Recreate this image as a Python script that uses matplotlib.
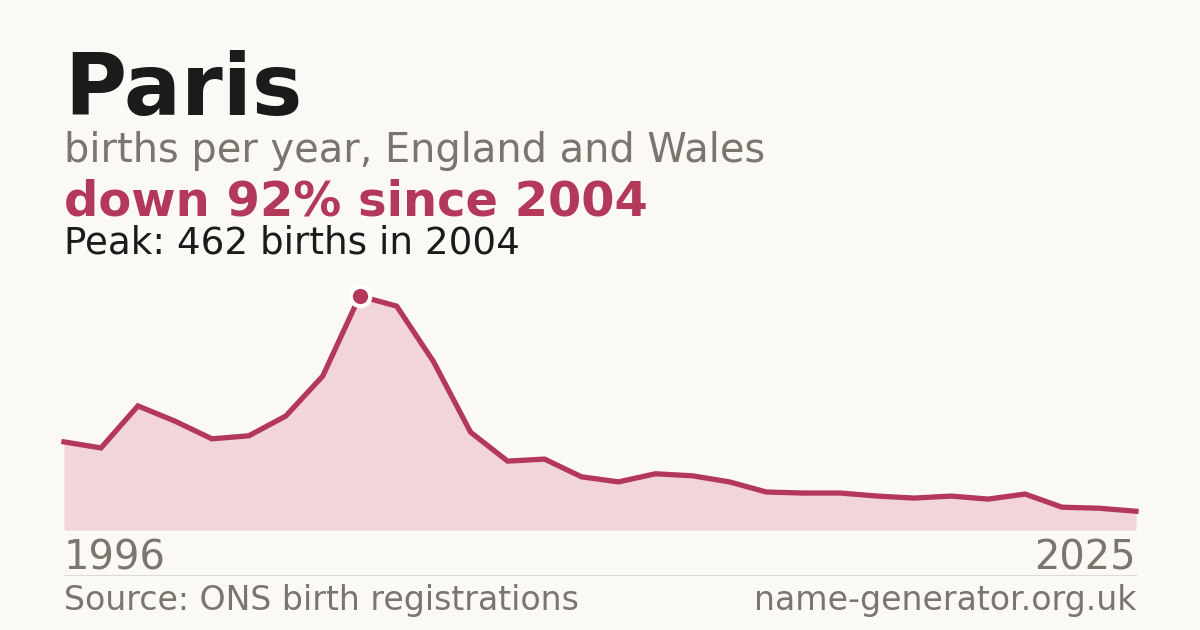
import matplotlib
matplotlib.use('Agg')
import matplotlib.pyplot as plt

# data
years = list(range(1996, 2026))
births = [174, 162, 245, 215, 180, 186, 225, 304, 462, 442,
          332, 193, 136, 140, 105, 95, 111, 107, 95, 75,
          73, 73, 67, 63, 67, 61, 71, 45, 43, 37]

name = 'Paris'
subtitle = 'births per year, England and Wales'
headline = 'down 92% since 2004'
peak_note = 'Peak: 462 births in 2004'
source = 'Source: ONS birth registrations'
site = 'name-generator.org.uk'

BG = '#faf9f5'
RED = '#b3385a'
GREY = '#7a756d'
INK = '#1b1b1b'

plt.rcParams['font.family'] = ['DejaVu Sans']

W, H = 1200, 630
fig = plt.figure(figsize=(12, 6.3), dpi=100, facecolor=BG)

def px(x, y):
    return x / W, 1 - y / H

# chart area
ax = fig.add_axes([64 / W, 100 / H, (1136 - 64) / W, (530 - 296) / H])
ax.set_facecolor(BG)
ax.fill_between(years, births, 0, color='#f1d5da', lw=0)
ax.plot(years, births, color=RED, lw=3.8, solid_joinstyle='miter', clip_on=False)
pk = births.index(max(births))
ax.plot(years[pk], births[pk], 'o', ms=14, color=RED, mec='white', mew=3, clip_on=False, zorder=5)
ax.set_xlim(years[0], years[-1])
ax.set_ylim(0, max(births))
ax.axis('off')

# titles
fig.text(*px(64, 115), name, fontsize=61, fontweight='bold', color=INK, va='baseline')
fig.text(*px(64, 162), subtitle, fontsize=28.7, color=GREY, va='baseline')
fig.text(*px(64, 215), headline, fontsize=34.6, fontweight='bold', color=RED, va='baseline')
fig.text(*px(64, 254), peak_note, fontsize=26.8, color=INK, va='baseline')

# axis ends
fig.text(*px(64, 570), str(years[0]), fontsize=28.8, color=GREY, va='baseline')
fig.text(*px(1136, 570), str(years[-1]), fontsize=28.8, color=GREY, va='baseline', ha='right')
fig.add_artist(plt.Line2D([64 / W, 1136 / W], [1 - 575 / H] * 2, color='#dddad3', lw=0.8))

# footer
fig.text(*px(64, 610), source, fontsize=23.9, color=GREY, va='baseline')
fig.text(*px(1136, 610), site, fontsize=23.9, color=GREY, va='baseline', ha='right')

fig.savefig('out.png', dpi=100, facecolor=BG)
